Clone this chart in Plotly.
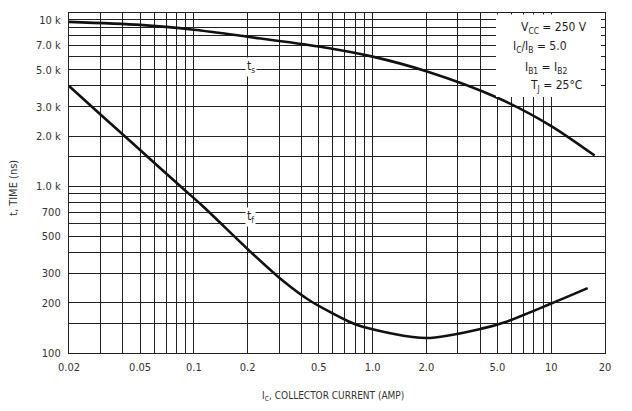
import plotly.graph_objects as go

# ---- data ----
ts_current = [0.02, 0.05, 0.1, 0.2, 0.5, 1.0, 2.0, 5.0, 10, 17.5]
ts_time = [9700, 9300, 8700, 7900, 6900, 6000, 4900, 3400, 2300, 1530]

tf_current = [0.02, 0.03, 0.05, 0.085, 0.11, 0.21, 0.31, 0.44, 0.73, 0.89, 2.0, 4.2, 5.5, 10, 16]
tf_time = [4000, 2700, 1650, 990, 775, 400, 275, 208, 155, 143, 123, 141, 153, 198, 245]

x_grid = [0.02, 0.03, 0.04, 0.05, 0.06, 0.07, 0.08, 0.09,
          0.1, 0.2, 0.3, 0.4, 0.5, 0.6, 0.7, 0.8, 0.9,
          1, 2, 3, 4, 5, 6, 7, 8, 9, 10, 20]
x_labels = {0.02: "0.02", 0.05: "0.05", 0.1: "0.1", 0.2: "0.2", 0.5: "0.5",
            1: "1.0", 2: "2.0", 5: "5.0", 10: "10", 20: "20"}

y_grid = [100, 150, 200, 300, 400, 500, 600, 700, 800, 900, 1000,
          1500, 2000, 3000, 4000, 5000, 6000, 7000, 8000, 9000, 10000]
y_labels = {100: "100", 200: "200", 300: "300", 500: "500", 700: "700",
            1000: "1.0 k", 2000: "2.0 k", 3000: "3.0 k", 5000: "5.0 k",
            7000: "7.0 k", 10000: "10 k"}

conditions = ["V<sub>CC</sub> = 250 V", "I<sub>C</sub>/I<sub>B</sub> = 5.0",
              "I<sub>B1</sub> = I<sub>B2</sub>", "T<sub>J</sub> = 25°C"]

FONT = "DejaVu Sans Condensed"
INK = "#1e1e1e"

fig = go.Figure()
fig.add_trace(go.Scatter(x=ts_current, y=ts_time, mode="lines",
                         line=dict(color="#111", width=2.6, shape="spline", smoothing=0.8),
                         showlegend=False, hoverinfo="skip"))
fig.add_trace(go.Scatter(x=tf_current, y=tf_time, mode="lines",
                         line=dict(color="#111", width=2.6, shape="spline", smoothing=0.8),
                         showlegend=False, hoverinfo="skip"))

# page body has an 8px margin: compensate
OFF = 8
W, H = 632 - OFF, 411 - OFF
L, R, T, B = 69, 605, 13, 353  # target pixel positions in the window

def px(x):
    return (x - L) / (R - L)

def py(y):
    return (B - y) / (B - T)

fig.update_layout(
    width=W, height=H,
    margin=dict(l=L - OFF, r=632 - R, t=T - OFF, b=411 - B, pad=0),
    paper_bgcolor="white", plot_bgcolor="white",
    font=dict(family=FONT, color=INK, size=11),
    xaxis=dict(type="log", range=[-1.69897, 1.30103],
               tickvals=x_grid, ticktext=[x_labels.get(v, "") for v in x_grid],
               showgrid=True, gridcolor="#222", gridwidth=1.1,
               showline=True, linecolor="#222", linewidth=1.2, mirror=True,
               ticks="", zeroline=False, ticklabelstandoff=4,
               tickfont=dict(size=11, color="#333")),
    yaxis=dict(type="log", range=[2, 4.04],
               tickvals=y_grid, ticktext=[y_labels.get(v, "") for v in y_grid],
               showgrid=True, gridcolor="#222", gridwidth=1.1,
               showline=True, linecolor="#222", linewidth=1.2, mirror=True,
               ticks="", zeroline=False, ticklabelstandoff=5,
               tickfont=dict(size=11, color="#333")),
)

# white box for test conditions
fig.add_shape(type="rect", xref="paper", yref="paper",
              x0=px(496), x1=px(601), y0=py(97), y1=py(14.5),
              fillcolor="white", line=dict(width=0), layer="above")

cond_pos = [(554, 28), (540, 47), (546, 68), (556, 86)]
for txt, (cx, cy) in zip(conditions, cond_pos):
    fig.add_annotation(text=txt, xref="paper", yref="paper", x=px(cx), y=py(cy),
                       showarrow=False, xanchor="center", yanchor="middle",
                       font=dict(size=12, color=INK, family=FONT))

# curve labels
fig.add_annotation(text="t<sub>s</sub>", xref="paper", yref="paper", x=px(251), y=py(57),
                   showarrow=False, bgcolor="white", font=dict(size=12, color=INK, family=FONT))
fig.add_annotation(text="t<sub>f</sub>", xref="paper", yref="paper", x=px(250), y=py(217),
                   showarrow=False, bgcolor="white", font=dict(size=12, color=INK, family=FONT))

# axis titles
fig.add_annotation(text="I<sub>C</sub>, COLLECTOR CURRENT (AMP)", xref="paper", yref="paper",
                   x=px(333), y=py(396), showarrow=False, xanchor="center", yanchor="middle",
                   font=dict(size=10, color="#333", family=FONT))
fig.add_annotation(text="t, TIME (ns)", xref="paper", yref="paper",
                   x=px(14), y=py(188), showarrow=False, textangle=-90,
                   xanchor="center", yanchor="middle",
                   font=dict(size=11, color="#333", family=FONT))

fig.write_html("out.html")
